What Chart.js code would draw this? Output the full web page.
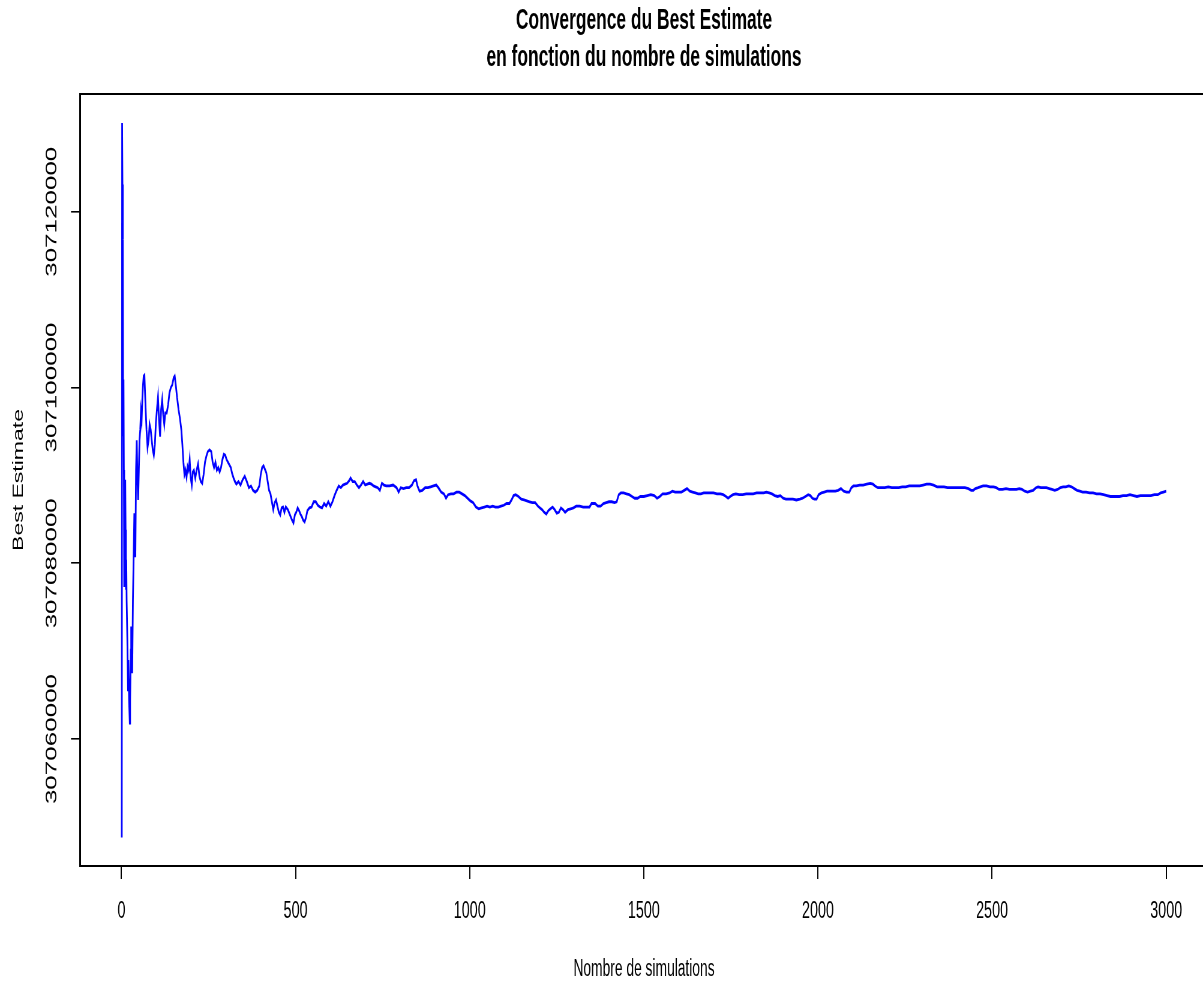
<!DOCTYPE html>
<html>
<head>
<meta charset="utf-8">
<script src="https://cdn.jsdelivr.net/npm/chart.js@4/dist/chart.umd.min.js"></script>
<style>
  html, body { margin: 0; padding: 0; overflow: hidden; background: #fff; }
  /* the R picture is squeezed horizontally, so draw wide and squeeze it */
  #wrap { width: 2020px; height: 981px; transform: scaleX(0.6); transform-origin: 0 0; }
</style>
</head>
<body>
<div id="wrap"><canvas id="myChart" width="2020" height="981"></canvas></div>
<script>
const chartTitle = ['Convergence du Best Estimate', 'en fonction du nombre de simulations'];
const xLabel = 'Nombre de simulations';
const yLabel = 'Best Estimate';
const xTicks = [0, 500, 1000, 1500, 2000, 2500, 3000];
const yTicks = [307060000, 307080000, 307100000, 307120000];

const simulations = [
  1, 2, 3, 4, 5, 6, 7, 8, 9, 10, 11, 12, 13, 14, 15, 17, 19, 20, 22, 24, 25, 27, 28, 30, 31, 33, 35, 37, 39, 40,
  42, 44, 46, 48, 50, 52, 54, 56, 58, 60, 62, 64, 66, 68, 70, 72, 75, 78, 81, 84, 87, 90, 93, 96, 99, 102, 105, 108, 111, 114,
  117, 120, 123, 126, 130, 134, 138, 142, 146, 150, 153, 156, 160, 164, 168, 172, 175, 178, 181, 184, 187, 190, 193, 196, 199, 202, 205, 208, 212, 216,
  220, 224, 228, 232, 236, 240, 244, 248, 253, 258, 262, 266, 270, 274, 278, 282, 286, 290, 294, 298, 302, 306, 310, 314, 318, 322, 326, 330, 336, 342,
  348, 354, 360, 366, 372, 378, 384, 390, 396, 400, 404, 408, 412, 416, 420, 424, 428, 432, 436, 440, 444, 448, 452, 456, 460, 464, 468, 472, 478, 484,
  490, 494, 498, 502, 506, 510, 514, 518, 522, 526, 530, 534, 540, 546, 552, 558, 564, 570, 576, 582, 588, 594, 600, 606, 612, 618, 624, 630, 636, 642,
  648, 654, 658, 664, 670, 676, 682, 688, 694, 700, 706, 712, 718, 724, 730, 736, 742, 748, 754, 760, 770, 780, 790, 796, 802, 810, 818, 826, 834, 840,
  846, 850, 856, 864, 872, 880, 888, 896, 904, 910, 918, 926, 932, 938, 946, 954, 962, 970, 978, 986, 994, 1002, 1010, 1018, 1026, 1034, 1042, 1050, 1058, 1066,
  1074, 1082, 1090, 1098, 1106, 1114, 1120, 1126, 1132, 1140, 1148, 1156, 1164, 1172, 1180, 1188, 1196, 1202, 1208, 1214, 1220, 1226, 1232, 1238, 1244, 1250, 1256, 1262, 1268, 1274,
  1282, 1290, 1298, 1306, 1316, 1326, 1336, 1344, 1350, 1360, 1368, 1376, 1384, 1392, 1400, 1408, 1416, 1422, 1428, 1434, 1442, 1450, 1458, 1466, 1474, 1482, 1490, 1500, 1510, 1520,
  1530, 1538, 1546, 1554, 1564, 1574, 1582, 1590, 1600, 1608, 1616, 1624, 1632, 1640, 1648, 1656, 1664, 1672, 1680, 1690, 1700, 1710, 1720, 1728, 1736, 1742, 1748, 1756, 1764, 1774,
  1784, 1794, 1804, 1814, 1824, 1834, 1844, 1852, 1860, 1868, 1876, 1884, 1892, 1900, 1908, 1918, 1928, 1938, 1948, 1956, 1964, 1972, 1978, 1984, 1990, 1996, 2002, 2010, 2018, 2026,
  2034, 2042, 2050, 2058, 2066, 2074, 2082, 2090, 2096, 2102, 2110, 2120, 2130, 2140, 2150, 2158, 2164, 2172, 2182, 2192, 2202, 2212, 2222, 2232, 2242, 2252, 2262, 2272, 2282, 2292,
  2302, 2312, 2322, 2332, 2342, 2352, 2362, 2372, 2382, 2392, 2402, 2412, 2422, 2432, 2440, 2446, 2452, 2460, 2466, 2474, 2484, 2494, 2504, 2512, 2520, 2530, 2540, 2550, 2560, 2570,
  2578, 2586, 2594, 2602, 2610, 2618, 2626, 2632, 2640, 2648, 2656, 2664, 2672, 2680, 2688, 2696, 2704, 2712, 2720, 2728, 2736, 2744, 2752, 2760, 2770, 2780, 2790, 2800, 2810, 2820,
  2830, 2840, 2848, 2856, 2866, 2876, 2886, 2896, 2906, 2916, 2926, 2936, 2946, 2956, 2966, 2976, 2984, 2992, 3000
];

const bestEstimate = [
  307048800, 307130100, 307123100, 307116800, 307094600, 307100900, 307090600, 307077300, 307087200, 307080400,
  307089500, 307083800, 307077000, 307080400, 307075800, 307071300, 307065600, 307069000, 307064400, 307061800,
  307064400, 307070100, 307072800, 307069000, 307067500, 307075800, 307080400, 307085700, 307082700, 307080700,
  307090600, 307094000, 307089500, 307087200, 307090600, 307094000, 307095200, 307097200, 307096300, 307098600,
  307100300, 307101300, 307101400, 307099200, 307097100, 307095200, 307093200, 307094000, 307095800, 307095200,
  307094000, 307092900, 307092300, 307093500, 307096000, 307097500, 307098900, 307096300, 307094400, 307097500,
  307098600, 307096900, 307095800, 307097100, 307097100, 307098000, 307099400, 307100000, 307100300, 307101100,
  307101300, 307100300, 307098800, 307097500, 307096500, 307095200, 307093500, 307091500, 307090100, 307090600,
  307089800, 307091000, 307090600, 307091800, 307089700, 307088900, 307090400, 307090600, 307089700, 307090600,
  307091300, 307089900, 307089300, 307089100, 307090100, 307091500, 307092200, 307092700, 307092900, 307092700,
  307091500, 307090900, 307091500, 307090600, 307090900, 307090400, 307090900, 307091800, 307092400, 307092300,
  307091800, 307091500, 307091200, 307090900, 307090200, 307089700, 307089300, 307089000, 307089300, 307088900,
  307089500, 307089900, 307089300, 307088600, 307088800, 307088300, 307088100, 307088300, 307088800, 307090100,
  307090900, 307091100, 307090700, 307090300, 307089300, 307088300, 307087900, 307087000, 307086100, 307086900,
  307087200, 307086500, 307085800, 307085500, 307086300, 307086400, 307085800, 307086400, 307086100, 307085500,
  307084900, 307084600, 307085500, 307085800, 307086300, 307086000, 307085600, 307085300, 307084900, 307084700,
  307085200, 307086000, 307086300, 307086400, 307087000, 307087000, 307086600, 307086400, 307086300, 307086800,
  307086500, 307087000, 307086500, 307087000, 307087700, 307088300, 307088800, 307088600, 307088900, 307089000,
  307089100, 307089400, 307089700, 307089300, 307089300, 307088900, 307088600, 307088900, 307089300, 307088900,
  307089000, 307089100, 307089000, 307088800, 307088700, 307088600, 307088300, 307089100, 307088900, 307088800,
  307088800, 307088900, 307088600, 307088100, 307088600, 307088500, 307088600, 307088600, 307088900, 307089400,
  307089500, 307088800, 307088200, 307088300, 307088600, 307088600, 307088700, 307088800, 307088900, 307088600,
  307088100, 307087900, 307087400, 307087800, 307087900, 307087900, 307088100, 307088100, 307087900, 307087700,
  307087400, 307087100, 307086900, 307086400, 307086200, 307086300, 307086400, 307086500, 307086400, 307086500,
  307086400, 307086400, 307086500, 307086600, 307086800, 307086800, 307087200, 307087700, 307087800, 307087600,
  307087300, 307087200, 307087100, 307087000, 307086900, 307086900, 307086500, 307086300, 307086100, 307085800,
  307085600, 307086000, 307086200, 307086400, 307086100, 307085700, 307085800, 307086300, 307086100, 307085800,
  307086100, 307086200, 307086300, 307086500, 307086500, 307086400, 307086400, 307086400, 307086800, 307086800,
  307086500, 307086500, 307086800, 307086900, 307087000, 307087000, 307086900, 307087000, 307087800, 307088000,
  307088000, 307087900, 307087800, 307087600, 307087400, 307087400, 307087600, 307087600, 307087700, 307087800,
  307087700, 307087400, 307087600, 307087900, 307087900, 307088000, 307088200, 307088100, 307088100, 307088100,
  307088300, 307088500, 307088200, 307088100, 307088000, 307087900, 307087900, 307088000, 307088000, 307088000,
  307088000, 307087900, 307087900, 307087800, 307087600, 307087400, 307087600, 307087800, 307087900, 307087800,
  307087800, 307087900, 307087900, 307087900, 307088000, 307088000, 307088000, 307088100, 307088000, 307087900,
  307087700, 307087600, 307087700, 307087400, 307087300, 307087300, 307087300, 307087200, 307087300, 307087400,
  307087600, 307087800, 307087700, 307087400, 307087300, 307087300, 307087800, 307088000, 307088100, 307088200,
  307088200, 307088200, 307088200, 307088300, 307088500, 307088200, 307088100, 307088100, 307088600, 307088800,
  307088800, 307088900, 307088900, 307089000, 307089100, 307089000, 307088800, 307088600, 307088600, 307088600,
  307088700, 307088600, 307088600, 307088600, 307088700, 307088700, 307088800, 307088800, 307088800, 307088800,
  307088900, 307089000, 307089000, 307088900, 307088700, 307088700, 307088700, 307088600, 307088600, 307088600,
  307088600, 307088600, 307088600, 307088500, 307088300, 307088300, 307088500, 307088600, 307088700, 307088800,
  307088800, 307088700, 307088700, 307088600, 307088400, 307088400, 307088500, 307088400, 307088400, 307088400,
  307088500, 307088400, 307088200, 307088100, 307088200, 307088300, 307088600, 307088700, 307088600, 307088600,
  307088600, 307088500, 307088400, 307088300, 307088400, 307088600, 307088700, 307088700, 307088800, 307088700,
  307088500, 307088300, 307088200, 307088100, 307088100, 307088000, 307088000, 307087900, 307087900, 307087800,
  307087700, 307087600, 307087600, 307087600, 307087600, 307087700, 307087700, 307087800, 307087700, 307087600,
  307087700, 307087700, 307087700, 307087700, 307087800, 307087800, 307088000, 307088100, 307088200
];

const points = simulations.map((s, i) => ({ x: s, y: bestEstimate[i] }));

const font = "'Liberation Sans', Arial, Helvetica, sans-serif";

// top and right side of the R box
const boxPlugin = {
  id: 'box',
  afterDraw(chart) {
    const ctx = chart.ctx;
    const a = chart.chartArea;
    ctx.save();
    ctx.strokeStyle = '#000';
    ctx.lineWidth = 2;
    ctx.beginPath();
    ctx.moveTo(a.left, a.top);
    ctx.lineTo(a.right, a.top);
    ctx.stroke();
    ctx.lineWidth = 3;
    ctx.beginPath();
    ctx.moveTo(a.right, a.top);
    ctx.lineTo(a.right, a.bottom);
    ctx.stroke();
    ctx.restore();
  }
};

const ctx = document.getElementById('myChart').getContext('2d');
const chart = new Chart(ctx, {
  type: 'line',
  data: {
    datasets: [{
      label: yLabel,
      data: points,
      borderColor: '#0000ff',
      borderWidth: 2.8,
      pointRadius: 0,
      tension: 0,
      fill: false
    }]
  },
  options: {
    responsive: false,
    animation: false,
    devicePixelRatio: 1,
    layout: { padding: { left: 0, right: 6.7, top: 0, bottom: 0 } },
    plugins: {
      legend: { display: false },
      tooltip: { enabled: false },
      title: {
        display: true,
        fullSize: false,
        text: chartTitle,
        color: '#000',
        font: { family: font, size: 29, weight: 'bold', lineHeight: 1.276 },
        padding: { top: 2.5, bottom: 17.5 }
      }
    },
    scales: {
      x: {
        type: 'linear',
        min: -118.96,
        max: 3119.96,
        afterBuildTicks: (scale) => { scale.ticks = xTicks.map(v => ({ value: v })); },
        afterFit: (scale) => { scale.height = 115; },
        ticks: {
          color: '#000',
          font: { family: font, size: 24 },
          padding: 17.6,
          maxRotation: 0,
          autoSkip: false,
          callback: (v) => String(v)
        },
        grid: {
          display: true,
          drawOnChartArea: false,
          drawTicks: true,
          tickLength: 13,
          lineWidth: 2,
          tickColor: '#000'
        },
        border: { display: true, color: '#000', width: 2 },
        title: {
          display: true,
          text: xLabel,
          color: '#000',
          font: { family: font, size: 23, lineHeight: 1 },
          padding: { top: 0, bottom: 0 }
        }
      },
      y: {
        type: 'linear',
        min: 307045550,
        max: 307133400,
        afterBuildTicks: (scale) => { scale.ticks = yTicks.map(v => ({ value: v })); },
        afterFit: (scale) => { scale.width = 133.3; },
        ticks: {
          color: '#000',
          font: { family: font, size: 26 },
          minRotation: 90,
          maxRotation: 90,
          crossAlign: 'center',
          padding: -33.4,
          autoSkip: false,
          callback: (v) => String(v)
        },
        grid: {
          display: true,
          drawOnChartArea: false,
          drawTicks: true,
          tickLength: 15,
          lineWidth: 1.6,
          tickColor: '#000'
        },
        border: { display: true, color: '#000', width: 3 },
        title: {
          display: true,
          text: yLabel,
          color: '#000',
          font: { family: font, size: 23, lineHeight: 1.2 },
          padding: { top: 17.9, bottom: 0 }
        }
      }
    }
  },
  plugins: [boxPlugin]
});
</script>
</body>
</html>
